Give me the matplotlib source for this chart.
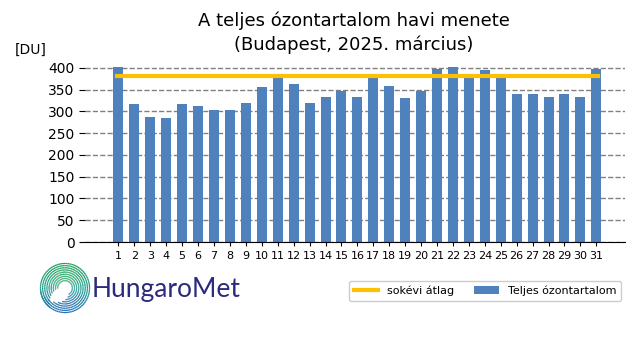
import numpy as np
import matplotlib.pyplot as plt
from matplotlib.collections import LineCollection
from matplotlib.colors import LinearSegmentedColormap

days = list(range(1, 32))
ozone = [403, 316, 286, 284, 316, 313, 304, 304, 320, 355, 378, 362, 320, 332, 346, 334,
         377, 359, 330, 346, 398, 403, 378, 394, 378, 339, 341, 332, 341, 334, 398]
avg = 381

fig = plt.figure(figsize=(6.4, 3.6), dpi=100)
ax = fig.add_axes([85 / 640, 1 - 242 / 360, 540 / 640, 182 / 360])

ax.bar(days, ozone, width=0.63, color='#4f81bd', label='Teljes ózontartalom', zorder=2)
ax.plot([0.9, 31.1], [avg, avg], color='#ffc000', lw=3, label='sokévi átlag', zorder=3)

ax.set_xlim(-1.1, 32.8)
ax.set_ylim(0, 418)
ax.set_yticks(range(0, 401, 50))
ax.set_xticks(days)
ax.tick_params(axis='x', labelsize=8, length=3)
ax.tick_params(axis='y', labelsize=10, length=4)
ax.yaxis.grid(True, linestyle='--', color='gray', lw=1, zorder=0)
for s in ['top', 'right', 'left']:
    ax.spines[s].set_visible(False)

fig.text(354 / 640, 1 - 33 / 360, 'A teljes ózontartalom havi menete\n(Budapest, 2025. március)',
         ha='center', va='center', fontsize=13, linespacing=1.35)
fig.text(15 / 640, 1 - 50 / 360, '[DU]', fontsize=10, va='center')

fig.legend(ncol=2, fontsize=8, loc='center', bbox_to_anchor=(485 / 640, 1 - 291 / 360),
           framealpha=1, handlelength=2.2, borderpad=0.45, columnspacing=1.8)

# logo: spiral of broken arcs, green at top to blue at bottom
lax = fig.add_axes([38 / 640, 1 - 316 / 360, 54 / 640, 56 / 360])
lax.set_aspect('equal')
lax.axis('off')
cmap = LinearSegmentedColormap.from_list('logo', ['#1f6fb5', '#1a9a8a', '#1aa05a'])
segs, cvals = [], []
for i, r in enumerate(np.linspace(0.3, 1.0, 9)):
    t0 = np.radians(-60 - i * 14)
    t1 = np.radians(185 + i * 6)
    t = np.linspace(t0, t1, 80)
    for a, b in zip(t[:-1], t[1:]):
        segs.append([(r * np.cos(a), r * np.sin(a)), (r * np.cos(b), r * np.sin(b))])
        cvals.append((np.sin((a + b) / 2) + 1) / 2)
lc = LineCollection(segs, cmap=cmap, lw=0.9)
lc.set_array(np.array(cvals))
lax.add_collection(lc)
lax.set_xlim(-1.1, 1.1)
lax.set_ylim(-1.1, 1.1)
fig.text(92 / 640, 1 - 289 / 360, 'HungaroMet', fontsize=19, color='#2b2a7d',
         va='center', family='Lato')

fig.savefig('out.png')
